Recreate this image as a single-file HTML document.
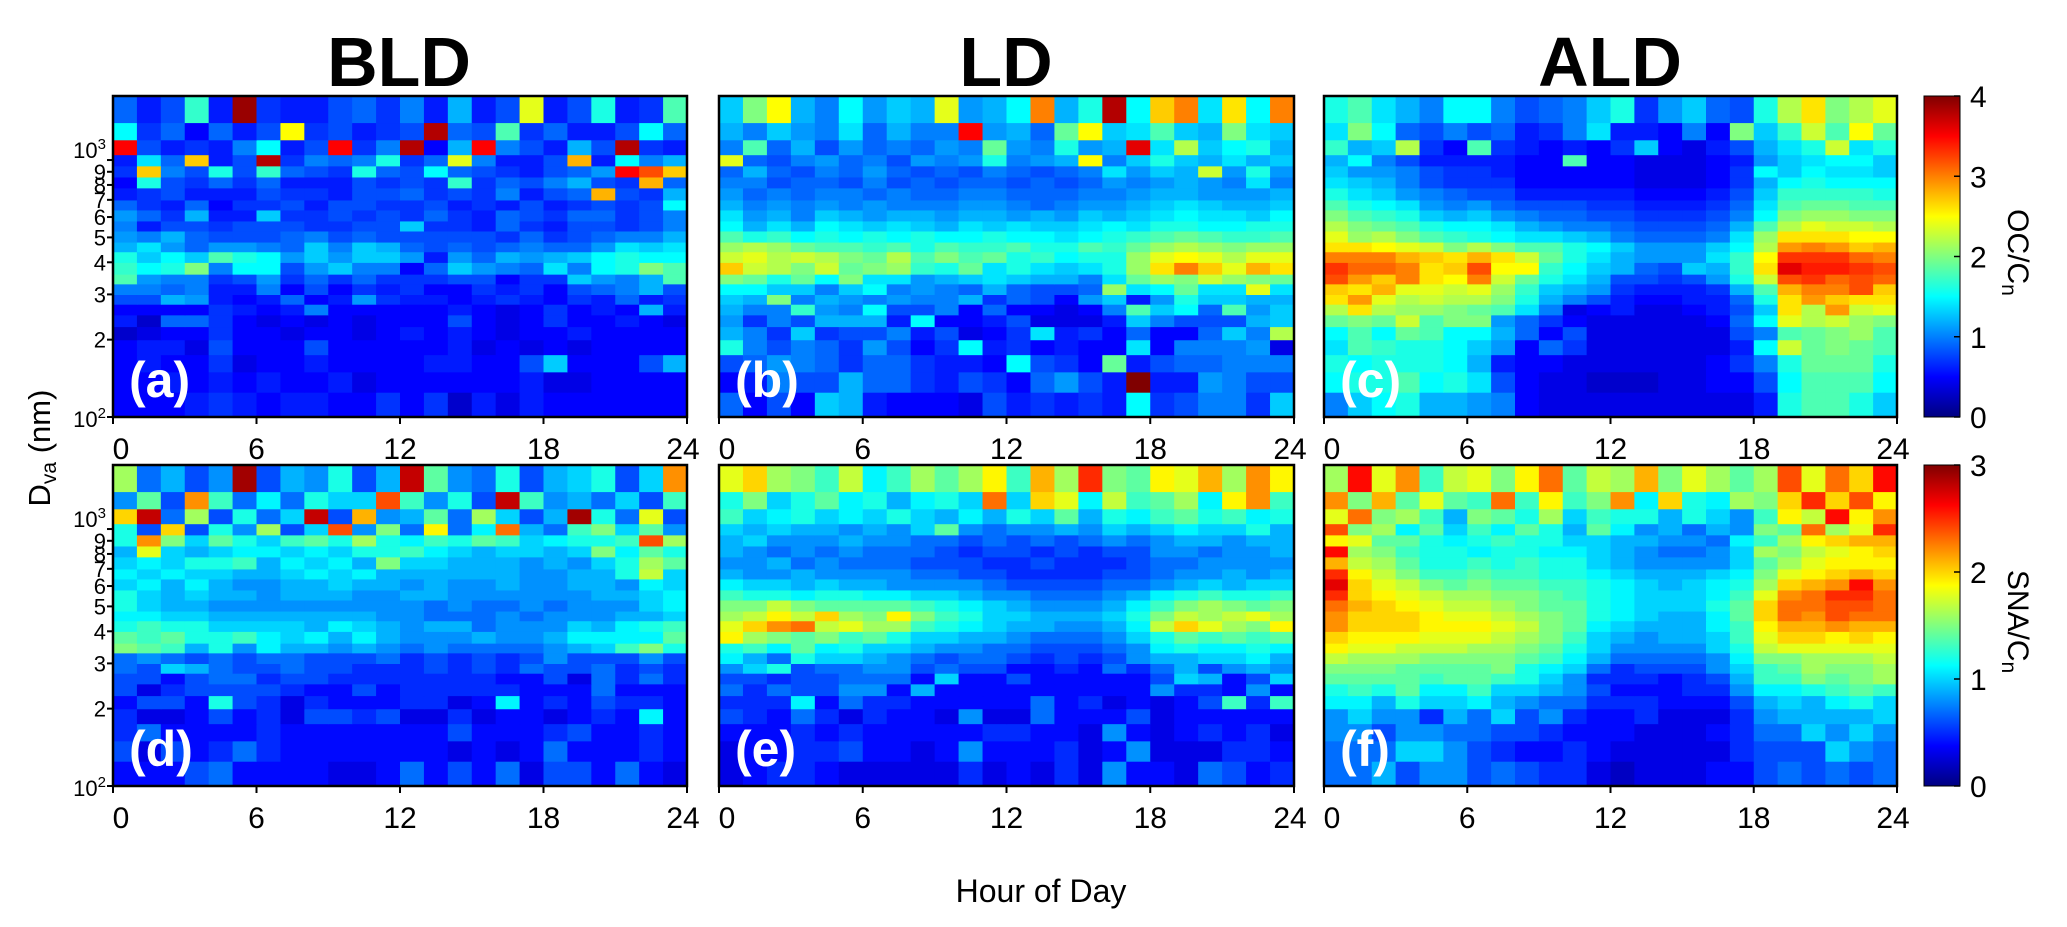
<!DOCTYPE html>
<html><head><meta charset="utf-8">
<style>
html,body{margin:0;padding:0;background:#fff;}
svg{display:block;font-family:"Liberation Sans",Arial,sans-serif;}
</style></head>
<body>
<svg id="chart" width="2067" height="927" viewBox="0 0 2067 927" xmlns="http://www.w3.org/2000/svg">
<defs>
<linearGradient id="jetgrad" x1="0" y1="1" x2="0" y2="0"></linearGradient>
</defs>
<g id="titles">
<text x="399" y="86" font-size="70" font-weight="bold" text-anchor="middle">BLD</text>
<text x="1006" y="86" font-size="70" font-weight="bold" text-anchor="middle">LD</text>
<text x="1610" y="86" font-size="70" font-weight="bold" text-anchor="middle">ALD</text>
</g>
<text transform="translate(50,448) rotate(-90)" font-size="31" text-anchor="middle">D<tspan font-size="21" dy="6">va</tspan><tspan dy="-6"> (nm)</tspan></text>
<text x="1041" y="902" font-size="32" text-anchor="middle">Hour of Day</text>
<g id="panels"></g>
</svg>
<script>
// ---- data ----
const hours = [0,1,2,3,4,5,6,7,8,9,10,11,12,13,14,15,16,17,18,19,20,21,22,23];
const binEdges = [100,125,150,175,200,225,250,275,300,330,360,400,440,480,530,580,640,700,780,860,950,1050,1200,1400,1775];
const xTickLabels = [0,6,12,18,24];
const yTickValues = [100,200,300,400,500,600,700,800,900,1000];
const ocTicks = [0,1,2,3,4];
const snaTicks = [0,1,2,3];

const ocBLD = [
[.5,.5,.5,.6,.7,.6,.5,.6,.6,.5,.5,.7,.5,.7,.3,.6,.4,.6,.5,.5,.5,.5,.5,.5],
[.5,.5,.6,.5,.6,.5,.6,.5,.5,.6,.4,.5,.5,.5,.5,.5,.5,.6,.4,.4,.5,.5,.5,.5],
[.5,.6,.5,.5,.7,.4,.5,.5,.6,.5,.5,.5,.5,.6,.6,.5,.5,.8,1.3,.5,.5,.5,.8,1.2],
[.5,.6,.6,.4,.8,.5,.5,.5,.8,.5,.5,.5,.5,.5,.6,.4,.5,.4,.5,.4,.5,.5,.5,.5],
[.3,.4,.5,.5,.7,.5,.5,.4,.5,.5,.4,.5,.6,.5,.6,.5,.4,.5,.5,.6,.5,.5,.5,.5],
[.6,.3,.9,.9,.7,.5,.4,.5,.4,.5,.4,.5,.5,.5,.8,.5,.4,.5,.7,.5,.5,.6,.5,.4],
[.5,.5,.5,.5,.7,.6,.5,.6,1.0,.5,.5,.5,.5,.5,.6,.5,.4,.5,.7,.5,.6,.5,1.2,.6],
[.8,.8,1.2,1.1,.6,.5,.6,.9,.5,.6,1.1,.7,.6,.6,.5,.6,.7,.6,.5,.7,.6,.9,.6,.7],
[1.0,1.0,.9,1.0,.6,.6,1.0,.5,.8,.5,.7,.6,.7,.5,.5,.7,.6,.7,.5,.8,.9,1.0,1.2,.8],
[1.8,1.1,1.0,1.0,.7,.8,1.1,.7,.9,.7,.9,.7,.7,.7,.8,.8,.5,.7,.7,1.3,1.1,1.0,1.2,1.8],
[1.7,1.5,1.6,2.0,1.0,1.5,1.5,.8,1.1,1.3,1.0,1.0,.5,.9,1.3,1.1,1.0,.9,1.4,1.0,1.5,1.6,2.0,1.8],
[1.6,1.3,1.5,1.3,1.8,1.6,1.5,1.1,1.3,1.1,1.3,1.3,1.1,.6,1.1,.9,1.2,1.1,1.2,1.3,1.5,1.6,1.5,1.5],
[1.2,1.4,1.1,.9,1.1,1.1,1.0,.9,1.3,1.0,1.3,1.2,.9,.8,.9,.8,.9,1.0,.9,.9,1.1,1.4,1.3,1.4],
[1.1,1.0,1.2,.9,.8,.8,.8,.9,1.0,.8,.9,.8,.8,.8,.8,.8,.7,.9,.7,.8,.9,1.0,1.0,1.2],
[1.0,.6,.8,.8,.7,.8,.8,.8,.7,.7,.8,.8,1.3,.7,.7,.6,.9,.7,.6,.8,.8,.7,.8,1.0],
[1.1,.9,.7,1.2,.6,.6,1.3,.7,.7,.8,.7,.8,.7,.9,.7,.6,.9,.8,.7,.9,.9,.7,.8,1.0],
[.9,.7,.6,.9,.5,.7,.7,.8,.6,.8,.8,.7,.7,.8,.6,.7,.6,.8,.6,.7,.8,.7,.8,1.5],
[.6,.7,.8,.6,.6,.6,.8,.7,.7,.6,.8,.8,.9,.7,.8,.7,1.0,.6,.8,.9,2.8,.8,.7,1.2],
[.5,1.6,.8,.7,.9,.7,.9,.6,.6,.6,.8,.7,.8,.7,1.7,.7,.9,.8,1.0,1.2,.8,.7,2.8,.9],
[.7,2.7,1.0,.8,1.6,.8,1.7,.9,.8,.7,1.6,.9,.8,1.5,.9,.8,.7,.6,.8,.9,1.1,3.5,3.2,2.7],
[.6,1.4,.9,2.7,.6,.8,3.8,.7,1.0,.9,1.0,1.6,.7,.9,2.4,1.0,.6,.6,.8,2.8,.6,1.5,1.0,1.2],
[3.5,.8,.6,.7,.6,1.0,1.5,.6,.8,3.5,.7,1.0,3.8,.5,1.2,3.5,1.0,.8,.6,1.2,.8,3.8,.7,.6],
[1.5,.7,.9,.5,.9,.6,.8,2.5,.7,.8,.6,.7,.8,3.8,.9,.8,1.8,.7,.9,.6,.6,.8,1.5,.9],
[.9,.6,.8,1.7,.6,3.9,.7,.6,.6,.8,.9,.7,1.0,.6,1.2,.6,.8,2.4,.6,.8,1.6,.6,.7,1.8]
];
const ocLD = [
[.9,.5,.8,.5,1.3,1.2,.6,.5,.5,.5,.4,.8,.6,.7,.6,.7,.6,1.5,.7,.8,1.0,1.0,.7,1.3],
[.5,.6,1.0,.8,.8,1.2,.9,.9,.7,.6,.8,.7,.5,.9,1.1,.8,.6,4.0,.6,.6,1.1,1.0,.8,.8],
[.8,.9,1.1,1.0,.9,.7,.9,.9,.7,.6,.6,.5,1.5,.8,.7,.5,1.9,.6,.8,.9,.9,1.0,1.0,1.0],
[1.6,1.0,.8,1.0,.9,.7,1.1,.8,.5,.7,1.5,.6,.7,.5,.6,.5,.5,1.4,.5,1.0,1.0,1.0,1.1,.4],
[1.2,1.0,.7,1.3,.7,.8,.8,1.0,.6,.8,.4,.5,.7,1.4,.6,.7,.5,.9,.5,.5,.9,1.3,1.0,2.2],
[1.1,.7,1.0,.8,1.2,1.2,1.2,.6,1.5,.5,.5,.6,.8,.4,.4,.4,.6,1.3,1.0,.8,.8,.8,1.2,1.3],
[1.2,1.0,1.0,1.7,1.1,1.0,1.5,.8,.8,1.0,.5,.9,.5,.5,.4,.5,1.0,1.8,1.3,1.5,.9,1.8,1.1,1.3],
[1.3,1.2,2.0,1.0,1.2,1.1,1.0,1.1,1.0,1.0,1.2,.7,.9,.8,.5,1.1,1.3,.6,1.1,1.6,1.3,1.3,1.2,1.2],
[1.5,1.5,1.3,1.3,1.0,1.3,1.5,1.0,1.1,1.0,.9,1.2,.9,.8,.8,.9,2.1,1.4,1.5,1.9,1.4,1.4,2.4,1.4],
[2.0,1.9,1.6,1.9,1.5,2.0,1.4,1.4,1.1,1.2,1.3,1.4,1.3,1.2,1.2,1.0,1.4,1.9,2.1,2.0,2.3,2.1,2.0,1.9],
[2.7,2.3,2.2,2.0,2.3,1.9,2.0,2.1,1.7,1.6,1.9,1.4,1.6,1.4,1.3,1.4,1.6,2.1,2.6,3.0,2.7,2.4,2.8,2.6],
[2.3,2.4,2.2,2.3,2.2,2.0,1.9,2.2,1.8,2.0,1.8,1.9,1.6,1.7,1.5,1.6,1.6,2.1,2.4,2.5,2.4,2.2,2.4,2.4],
[2.1,2.2,2.1,1.9,1.8,1.8,1.7,1.8,1.6,1.8,1.7,1.7,1.8,1.6,1.6,1.8,1.7,1.9,2.1,2.2,2.1,2.0,2.1,2.1],
[1.8,1.6,1.7,1.5,1.6,1.5,1.6,1.5,1.6,1.5,1.5,1.6,1.5,1.5,1.4,1.5,1.6,1.7,1.8,1.9,1.8,1.7,1.7,1.8],
[1.5,1.2,1.4,1.2,1.5,1.4,1.3,1.4,1.3,1.2,1.4,1.3,1.4,1.3,1.3,1.4,1.5,1.4,1.6,1.6,1.5,1.5,1.6,1.6],
[1.4,1.1,1.2,1.0,1.3,1.2,1.1,1.2,1.2,1.1,1.2,1.2,1.1,1.2,1.1,1.3,1.2,1.3,1.4,1.5,1.4,1.4,1.3,1.5],
[1.2,1.0,1.1,1.0,1.1,1.0,1.1,1.0,1.0,1.0,1.1,1.1,1.0,.9,1.0,1.1,1.1,1.2,1.3,1.4,1.3,1.2,1.2,1.3],
[1.1,.9,1.0,.9,1.0,1.0,.9,1.0,.9,.9,1.0,1.0,.9,.9,.9,1.0,1.0,1.1,1.2,1.2,1.1,1.1,1.1,1.2],
[1.0,1.0,.8,.9,.9,.8,1.0,.8,.9,.8,.9,.9,.8,.9,.8,.9,1.1,1.0,1.1,1.2,1.1,1.0,1.4,1.0],
[.9,1.2,.9,.8,1.0,.9,1.1,.9,.8,.9,.8,1.0,.9,.8,.9,1.0,1.4,1.1,1.3,1.2,2.3,1.1,1.6,1.1],
[2.4,.9,.8,1.0,1.1,.9,1.0,.8,1.1,1.0,1.1,1.6,1.0,1.1,1.2,2.5,1.0,1.3,1.6,1.3,1.2,1.4,1.2,1.3],
[1.0,1.8,.9,1.2,.8,1.1,.9,1.0,.9,1.1,1.0,1.9,1.1,1.0,1.6,1.1,1.2,3.6,1.4,2.2,1.3,1.5,1.6,1.2],
[1.2,1.0,1.3,1.1,1.0,1.4,.9,1.2,1.0,1.0,3.5,1.1,1.2,.9,1.9,2.5,1.3,1.4,1.8,1.3,1.2,2.0,1.4,1.3],
[1.3,2.0,2.5,1.2,1.0,1.5,1.1,1.3,1.2,2.4,1.1,1.2,1.5,3.0,1.2,1.6,3.8,1.5,2.7,3.0,1.4,2.6,1.5,3.0]
];
const ocALD = [
[1.0,1.3,1.5,1.6,1.2,1.2,1.1,1.0,.5,.4,.4,.4,.4,.4,.4,.4,.4,.4,.6,1.6,1.8,1.8,1.6,1.3],
[1.5,1.6,1.6,1.8,1.5,1.6,1.4,.8,.5,.4,.4,.3,.3,.3,.4,.4,.5,.5,.8,1.5,1.8,1.8,1.8,1.5],
[1.6,1.5,1.6,1.6,1.6,1.5,1.2,.6,.5,.5,.4,.4,.4,.4,.4,.4,.5,.7,1.0,1.6,1.9,1.9,1.9,1.6],
[1.4,1.8,1.7,1.6,1.6,1.5,1.3,1.1,.5,.9,.7,.4,.4,.4,.4,.4,.4,.6,1.5,2.3,1.9,2.0,1.9,1.8],
[1.5,1.8,1.5,1.9,1.8,1.5,1.5,1.2,.9,.5,.8,.4,.4,.4,.4,.4,.4,.8,1.0,1.8,1.9,2.0,2.1,1.8],
[1.9,2.0,1.9,2.3,1.8,2.0,2.0,1.1,.9,.7,.5,.4,.4,.4,.4,.4,.5,.9,1.5,2.4,2.2,2.3,2.1,2.0],
[2.2,2.6,2.2,2.1,2.1,2.0,1.9,1.8,1.4,1.0,.4,.5,.6,.4,.4,.5,.6,.8,1.3,2.6,2.2,2.9,2.3,2.4],
[2.6,2.9,2.4,2.2,2.3,2.2,2.2,2.0,1.6,1.2,1.0,.8,.6,.5,.5,.6,.6,.9,1.6,2.6,2.9,2.7,2.6,2.6],
[2.7,2.6,2.8,2.4,2.4,2.3,2.4,2.1,1.7,1.3,1.2,1.1,.7,.6,.6,.6,.7,1.2,1.8,2.8,3.0,3.0,3.2,2.7],
[3.2,2.9,2.7,3.0,2.6,2.5,3.0,2.3,1.9,1.6,1.4,1.2,.8,.8,.7,.8,1.1,1.6,2.3,3.2,3.3,3.1,3.2,3.1],
[3.3,3.1,3.1,3.0,2.6,2.7,3.2,2.5,2.5,1.7,1.5,1.3,1.2,.9,.8,1.3,1.2,1.7,2.6,3.6,3.4,3.4,3.3,3.2],
[3.0,3.0,3.0,2.8,2.7,2.6,2.8,2.6,2.3,1.9,1.6,1.4,1.2,1.1,1.1,1.1,1.4,1.7,2.5,3.3,3.3,3.3,3.1,3.0],
[2.6,2.6,2.5,2.4,2.3,2.0,2.2,2.0,1.8,1.8,1.6,1.5,1.3,1.1,1.1,1.1,1.3,1.5,2.2,2.9,3.0,2.9,2.7,2.8],
[2.4,2.1,2.2,2.0,1.8,1.7,1.6,1.5,1.4,1.4,1.3,1.2,1.0,.9,.9,.9,1.0,1.4,2.1,2.6,2.6,2.6,2.5,2.5],
[2.2,2.0,1.9,1.8,1.6,1.5,1.5,1.4,1.2,1.1,1.0,1.0,.9,.8,.8,.8,.9,1.2,1.8,2.2,2.4,2.3,2.3,2.2],
[2.0,1.8,1.7,1.6,1.3,1.2,1.3,1.1,1.0,.9,.9,.8,.8,.7,.7,.7,.8,1.0,1.5,2.0,2.1,2.1,2.0,2.0],
[1.8,1.6,1.5,1.4,1.1,1.0,1.1,.9,.8,.8,.8,.7,.7,.6,.6,.6,.7,.9,1.4,1.8,1.9,1.9,1.8,1.8],
[1.6,1.4,1.3,1.1,1.0,.9,.8,.8,.6,.6,.6,.6,.6,.5,.5,.5,.6,.8,1.3,1.7,1.7,1.7,1.7,1.6],
[1.4,1.3,1.2,1.0,.8,.7,.7,.7,.5,.5,.5,.5,.5,.4,.4,.4,.5,.7,1.2,1.5,1.6,1.5,1.5,1.5],
[1.3,1.1,1.1,1.0,.8,.7,.7,.6,.5,.5,.5,.5,.5,.4,.4,.4,.5,.7,1.5,1.3,1.5,1.4,1.4,1.3],
[1.2,1.5,1.0,.8,.6,.6,.6,.6,.5,.5,1.8,.5,.5,.4,.4,.4,.5,.6,1.1,1.3,1.4,1.5,1.5,1.3],
[1.7,1.2,1.3,2.2,.7,.5,1.8,.7,.6,.5,.6,.5,.7,1.3,.5,.4,.6,.8,1.2,1.4,1.6,2.3,1.4,1.6],
[1.4,2.0,1.5,.9,.8,1.0,.8,.9,.6,.7,1.0,1.4,.6,.6,.5,1.0,.5,2.0,1.3,1.7,2.3,1.8,2.5,1.9],
[1.6,1.8,1.4,1.2,1.0,1.5,1.5,1.0,.8,.9,1.0,1.3,1.6,.7,1.1,1.3,.9,.8,1.6,2.2,2.6,2.0,2.2,2.4]
];
const snaBLD = [
[.4,.4,.4,.6,.7,.4,.4,.4,.4,.3,.3,.4,.7,.4,.6,.4,.7,.3,.6,.6,.4,.7,.4,.3],
[.6,.3,.6,.4,.5,.7,.5,.4,.4,.4,.4,.4,.4,.4,.3,.4,.3,.4,.7,.4,.4,.4,.5,.4],
[.5,.7,.4,.4,.4,.4,.5,.4,.4,.4,.4,.4,.4,.4,.6,.4,.4,.4,.5,.6,.4,.4,.5,.4],
[.5,.3,.3,.4,.6,.4,.5,.3,.6,.6,.5,.6,.3,.3,.5,.3,.4,.4,.3,.4,.5,.4,1.1,.4],
[.4,.6,.6,.4,1.2,.6,.5,.3,.5,.4,.4,.4,.5,.5,.3,.4,1.1,.4,.5,.4,.6,.5,.5,.4],
[.6,.3,.5,.6,.6,.6,.6,.5,.4,.4,.6,.4,.5,.5,.5,.5,.5,.4,.4,.4,.7,.4,.4,.4],
[.6,.6,.4,.6,.7,.7,.5,.6,.6,.5,.5,.5,.5,.5,.5,.5,.4,.4,.6,.3,.7,.5,.7,.5],
[.7,.6,1.0,.9,.7,.6,.6,.7,.6,.6,.5,.5,.5,.6,.5,.6,.5,.7,.6,.6,.7,.5,.6,.5],
[.7,.8,.7,.6,.7,.6,.7,.7,.6,.6,.6,.7,.5,.6,.5,.6,.5,.6,.8,.6,.6,.6,.8,.6],
[1.5,1.4,1.3,.9,1.2,.8,1.1,.9,.9,.8,.9,.8,.7,.8,.7,.7,.7,.7,.8,.9,1.0,1.3,1.5,1.2],
[1.4,1.3,1.4,1.2,1.2,1.3,1.1,1.0,1.1,.9,1.1,.9,.8,.8,.8,.9,.8,.8,.9,1.1,1.1,1.1,1.1,1.4],
[1.2,1.3,1.2,1.2,1.0,1.0,1.0,1.0,.9,1.1,1.0,.9,.8,.9,.9,.7,.8,.8,.8,1.0,.9,1.1,1.2,1.3],
[1.1,1.1,1.0,1.0,.9,.9,.9,.9,.9,.9,.9,.8,.8,.7,.7,.7,.8,.7,.8,.8,.8,.9,.9,1.0],
[1.2,1.0,.9,.9,.8,.8,.8,.8,.8,.8,.8,.8,.8,.7,.8,.7,.7,.8,.7,.8,.8,.8,1.0,1.1],
[1.2,1.0,.9,1.0,.9,.9,.8,.9,.9,.9,.8,.8,.9,.9,.8,.8,.8,.8,.8,.8,.9,.9,1.0,1.1],
[1.0,1.1,.9,1.1,.9,.8,.8,.9,.9,1.0,.9,.9,.8,.9,.8,.8,.9,.8,.8,.9,.9,.8,1.1,1.0],
[1.1,1.0,1.1,1.0,1.0,.9,.9,1.0,1.1,1.0,1.1,.9,.9,.9,.9,.9,.9,.8,.8,.9,.9,1.2,1.7,1.0],
[1.0,1.1,1.0,1.2,1.2,1.3,.9,1.1,1.0,1.1,.9,1.5,1.0,1.0,.9,.9,.9,.8,.9,.8,1.0,1.2,1.6,1.4],
[.9,1.8,1.0,.9,1.0,1.1,1.1,1.0,1.1,1.0,1.2,1.2,1.3,1.1,1.0,.9,1.0,1.0,.9,1.0,1.5,1.1,1.4,1.2],
[1.2,2.2,1.5,1.0,1.4,1.2,1.0,1.3,1.4,1.2,1.6,1.2,1.1,1.3,1.2,1.4,1.3,1.0,1.1,1.2,1.2,1.3,2.4,1.6],
[1.2,.6,2.0,.6,1.2,.8,1.6,.6,1.0,2.4,.8,1.5,.7,1.9,.7,1.1,2.3,.9,.7,1.3,1.5,1.0,1.4,.8],
[2.0,2.8,.7,1.6,.6,1.2,.7,1.0,2.8,.6,2.1,.8,.9,1.4,.7,1.6,1.0,.6,.9,2.9,1.2,.7,1.8,.6],
[.8,1.4,.6,2.2,1.3,.7,1.1,.7,1.2,1.0,1.0,2.4,1.3,.8,1.2,.6,2.8,1.3,.8,.9,.7,1.0,.6,1.3],
[1.6,.7,.9,.6,.8,2.9,.6,.9,.8,1.2,.6,.9,2.8,1.4,.8,.7,1.2,.6,.9,1.0,1.2,.6,1.0,2.2]
];
const snaLD = [
[.3,.4,.5,.5,.4,.3,.3,.3,.3,.3,.5,.3,.4,.3,.5,.3,.8,.4,.4,.3,.7,.6,.4,.5],
[.3,.4,.4,.5,.5,.6,.4,.4,.3,.4,.8,.4,.4,.4,.5,.3,.4,.8,.3,.3,.3,.5,.5,.4],
[.4,.4,.4,.5,.4,.5,.4,.4,.4,.4,.4,.5,.5,.4,.4,.3,.8,.4,.3,.4,.5,.4,.5,.3],
[.6,.5,.4,.7,.5,.3,.5,.4,.4,.3,.8,.3,.3,.7,.4,.4,.4,.6,.3,.4,.4,.4,.4,.4],
[.5,.5,.5,1.1,.4,.7,.5,.5,.4,.4,.4,.4,.4,.7,.4,.5,.3,.4,.3,.4,.6,1.3,.5,1.3],
[.7,.5,.7,.6,.6,.8,.8,.4,.9,.4,.4,.4,.4,.4,.4,.4,.4,.4,.8,.5,.5,.4,.8,.4],
[.6,.6,.5,.6,.6,.7,.7,.7,.4,1.0,.4,.4,.6,.4,.4,.4,.4,.4,.6,1.0,.9,.4,.6,1.0],
[.8,1.0,1.2,.6,.7,.7,.8,.8,.6,.7,.6,.6,.4,.4,.5,.4,.7,.5,.7,.9,.6,.8,.9,.8],
[1.1,.9,.7,1.2,1.0,1.0,.9,.8,.7,.6,.7,.7,.6,.5,.6,.5,.6,.8,.9,.9,1.0,1.0,1.1,.9],
[1.2,1.3,1.1,1.4,1.1,1.2,1.0,1.0,.9,.8,.8,.7,.7,.6,.6,.6,.7,.8,1.1,1.2,1.1,1.1,1.2,1.1],
[1.9,1.6,1.5,1.4,1.5,1.3,1.4,1.2,1.0,1.0,.9,.9,.8,.7,.7,.7,.8,1.0,1.2,1.4,1.3,1.4,1.3,1.4],
[1.8,2.0,2.2,2.3,1.7,1.8,1.6,1.6,1.3,1.2,1.1,1.0,.9,.9,.8,.8,.9,1.1,1.7,2.0,1.8,1.6,1.5,1.9],
[1.6,1.7,1.9,1.7,2.0,1.6,1.5,1.9,1.5,1.3,1.2,1.0,1.0,.9,.9,.9,1.0,1.2,1.5,1.7,1.6,1.7,1.8,1.6],
[1.5,1.5,1.7,1.5,1.4,1.4,1.4,1.4,1.3,1.2,1.1,1.0,.9,.8,.8,.8,.9,1.1,1.3,1.5,1.6,1.5,1.4,1.5],
[1.3,1.2,1.2,1.1,1.2,1.2,1.1,1.1,1.0,1.0,.9,.8,.8,.7,.7,.7,.8,.9,1.1,1.2,1.3,1.2,1.2,1.3],
[1.1,1.0,1.0,.9,1.0,.9,.9,.8,.8,.8,.8,.7,.6,.6,.6,.6,.7,.7,.8,.9,1.0,.9,1.0,1.0],
[.9,.8,.8,.9,.8,.8,.8,.8,.7,.7,.6,.6,.5,.5,.5,.5,.6,.6,.7,.8,.8,.9,.8,.9],
[.8,.8,.9,.7,.8,.7,.7,.7,.6,.6,.6,.5,.5,.6,.5,.5,.5,.6,.7,.7,.8,.8,.8,.8],
[.9,.8,.7,.8,.7,.8,.7,.7,.7,.6,.5,.6,.6,.5,.6,.5,.6,.6,.8,.8,.7,.8,.8,.9],
[.9,1.0,.8,.8,.8,.9,.8,.8,.7,.7,.6,.7,.6,.7,.6,.7,.8,.7,.8,.9,.9,.8,.9,.9],
[1.0,.9,1.0,.9,.9,.8,.9,.8,1.0,1.4,.8,.7,.8,.8,.9,.8,1.0,.9,1.0,1.1,1.0,1.0,1.2,.9],
[1.3,1.0,1.1,1.2,1.0,1.1,1.0,1.2,1.0,.9,1.1,.9,1.2,1.0,1.4,.9,1.2,1.1,1.3,1.4,1.2,1.3,1.1,1.2],
[1.2,1.5,1.0,1.2,1.4,1.1,1.2,.9,1.1,1.2,1.0,2.3,1.0,2.0,1.8,1.1,1.7,1.3,1.4,1.6,1.1,1.9,2.2,1.3],
[1.8,2.0,1.6,1.5,1.3,1.7,1.1,1.3,1.6,1.4,1.6,1.9,1.3,2.1,1.6,2.5,1.5,1.4,1.9,1.8,2.1,1.6,2.2,1.9]
];
const snaALD = [
[.7,.7,.9,.6,.8,.8,.6,.7,.6,.5,.5,.3,.2,.3,.3,.3,.4,.4,.6,.7,.6,.7,.6,.7],
[.7,.7,.7,1.0,1.0,.8,.6,.5,.4,.4,.5,.4,.3,.3,.3,.3,.3,.5,.6,.6,.6,1.0,.8,.7],
[.8,.8,.6,.8,.8,.7,.7,.6,.6,.5,.4,.4,.4,.3,.3,.3,.4,.5,.7,.7,1.0,.8,1.0,.8],
[.8,1.0,.8,.8,.5,.9,.7,1.0,.6,.8,.5,.4,.4,.5,.3,.3,.3,.5,.8,.9,.9,.9,.9,1.0],
[1.1,1.1,.9,1.2,1.0,1.0,1.1,.9,.8,.7,.7,.5,.5,.5,.4,.4,.4,.6,.9,1.0,.9,1.1,1.2,1.0],
[1.2,1.3,1.2,1.4,1.1,1.1,1.3,1.0,1.0,.9,.8,.6,.4,.4,.4,.5,.5,.8,1.1,1.1,1.2,1.3,1.4,1.3],
[1.4,1.4,1.4,1.4,1.3,1.4,1.4,1.3,1.2,1.0,.8,.5,.5,.5,.4,.5,.6,.9,1.3,1.3,1.5,1.4,1.5,1.6],
[1.5,1.5,1.5,1.4,1.4,1.4,1.4,1.5,1.2,1.1,1.0,.7,.5,.6,.6,.6,.8,1.0,1.3,1.4,1.6,1.5,1.5,1.6],
[1.7,1.6,1.6,1.6,1.5,1.5,1.5,1.5,1.4,1.3,1.1,.9,.7,.7,.7,.7,.8,1.1,1.5,1.5,1.6,1.6,1.6,1.7],
[1.9,1.8,1.8,1.7,1.7,1.7,1.6,1.6,1.5,1.4,1.2,1.0,.8,.8,.8,.8,1.0,1.2,1.7,1.8,1.8,1.8,1.8,1.8],
[2.0,1.9,1.9,1.9,1.8,1.8,1.8,1.7,1.6,1.5,1.3,1.0,.9,.8,.9,.9,1.0,1.3,1.8,2.0,2.0,1.9,2.0,1.9],
[2.2,2.0,2.0,2.0,1.9,1.9,1.9,1.8,1.7,1.5,1.4,1.1,1.0,.9,.9,.9,1.1,1.3,1.9,2.1,2.1,2.2,2.1,2.1],
[2.2,2.0,2.0,2.0,1.9,1.8,1.8,1.7,1.6,1.5,1.4,1.2,1.1,1.0,.9,.9,1.1,1.4,2.0,2.3,2.2,2.4,2.3,2.3],
[2.3,2.1,2.0,1.9,1.8,1.7,1.7,1.6,1.5,1.4,1.4,1.2,1.1,1.0,1.0,1.0,1.2,1.4,2.0,2.3,2.3,2.4,2.4,2.3],
[2.5,2.0,1.9,1.8,1.7,1.6,1.6,1.5,1.5,1.4,1.3,1.2,1.1,1.0,1.0,1.0,1.1,1.3,1.8,2.2,2.3,2.5,2.5,2.3],
[2.7,2.0,1.8,1.7,1.5,1.4,1.5,1.4,1.4,1.3,1.3,1.2,1.1,1.0,.9,1.0,1.1,1.2,1.6,2.0,2.1,2.2,2.6,2.2],
[2.5,1.9,1.7,1.5,1.3,1.3,1.4,1.3,1.3,1.2,1.2,1.1,1.0,.9,.9,.9,1.0,1.1,1.5,1.8,1.9,2.0,2.1,2.0],
[2.1,1.7,1.6,1.4,1.2,1.2,1.3,1.2,1.3,1.2,1.2,1.0,.9,.8,.8,.8,.8,1.0,1.4,1.6,1.8,1.9,1.9,1.9],
[2.6,1.6,1.5,1.3,1.2,1.2,1.1,1.2,1.2,1.1,1.1,1.0,.9,.8,.7,.7,.8,1.0,1.6,1.5,1.7,1.8,1.9,2.0],
[1.9,1.8,1.4,1.4,1.2,1.1,1.2,1.3,1.2,1.2,1.0,1.0,.9,.9,.8,.8,.7,1.1,1.3,1.6,1.9,2.0,2.1,2.1],
[2.4,1.5,1.6,1.1,1.4,1.0,1.3,1.1,1.4,1.2,.9,1.4,1.1,.8,.9,.7,.9,.8,1.5,1.4,2.3,1.6,1.8,2.5],
[1.8,2.3,1.5,1.6,1.3,.9,1.5,1.4,1.2,1.6,1.0,1.3,1.2,1.2,.9,1.2,1.0,.8,1.3,1.9,1.7,2.6,1.9,2.2],
[2.2,1.5,2.1,1.4,1.8,1.4,1.3,2.3,1.3,1.9,1.3,1.5,2.2,1.1,2.0,1.2,1.1,1.6,1.5,2.0,2.5,2.0,2.4,1.9],
[1.6,2.6,1.8,2.2,1.3,1.7,1.8,1.5,1.9,2.3,1.4,1.7,1.6,2.1,1.5,1.8,1.6,1.4,1.6,2.4,1.8,2.3,2.0,2.6]
];

// ---- layout ----
const NS = 'http://www.w3.org/2000/svg';
const svg = document.getElementById('chart');
const root = document.getElementById('panels');
const colX = [[113,687],[719,1294],[1324,1897]];
const rowY = [[96,417],[465,786]];
const dMin = 100, dMax = 1775, hMax = 24;

function el(tag, attrs, parent) {
  const e = document.createElementNS(NS, tag);
  for (const k in attrs) e.setAttribute(k, attrs[k]);
  (parent || root).appendChild(e);
  return e;
}
function jet(t) {
  t = Math.max(0, Math.min(1, t));
  const c = v => Math.round(255 * Math.max(0, Math.min(1, v)));
  return 'rgb(' + c(1.5 - Math.abs(4*t - 3)) + ',' + c(1.5 - Math.abs(4*t - 2)) + ',' + c(1.5 - Math.abs(4*t - 1)) + ')';
}
function xScale(h, p) { return p[0] + (h / hMax) * (p[1] - p[0]); }
function yScale(d, r) { return r[1] - (Math.log10(d) - Math.log10(dMin)) / (Math.log10(dMax) - Math.log10(dMin)) * (r[1] - r[0]); }

const grad = document.getElementById('jetgrad');
for (let i = 0; i <= 40; i++) {
  const s = document.createElementNS(NS, 'stop');
  s.setAttribute('offset', (i / 40));
  s.setAttribute('stop-color', jet(i / 40));
  grad.appendChild(s);
}

const panels = [
  {data: ocBLD, col: 0, row: 0, max: 4, label: '(a)', name: 'panel-a-oc-bld'},
  {data: ocLD, col: 1, row: 0, max: 4, label: '(b)', name: 'panel-b-oc-ld'},
  {data: ocALD, col: 2, row: 0, max: 4, label: '(c)', name: 'panel-c-oc-ald'},
  {data: snaBLD, col: 0, row: 1, max: 3, label: '(d)', name: 'panel-d-sna-bld'},
  {data: snaLD, col: 1, row: 1, max: 3, label: '(e)', name: 'panel-e-sna-ld'},
  {data: snaALD, col: 2, row: 1, max: 3, label: '(f)', name: 'panel-f-sna-ald'}
];

panels.forEach(p => {
  const px = colX[p.col], py = rowY[p.row];
  const g = el('g', {});
  
  
  for (let b = 0; b < binEdges.length - 1; b++) {
    const y0 = yScale(binEdges[b+1], py), y1 = yScale(binEdges[b], py);
    for (let h = 0; h < hours.length; h++) {
      const x0 = xScale(hours[h], px), x1 = xScale(hours[h] + 1, px);
      const r = el('rect', {x: x0.toFixed(2), y: y0.toFixed(2), width: (x1 - x0 + 0.6).toFixed(2), height: (y1 - y0 + 0.6).toFixed(2), fill: jet(p.data[b][h] / p.max)}, g);
      
      
    }
  }
  const fr = el('rect', {x: px[0], y: py[0], width: px[1]-px[0], height: py[1]-py[0], fill: 'none', stroke: '#000', 'stroke-width': 2.5}, g);
  
  
  const lb = el('text', {x: px[0] + 16, y: py[1] - 20, 'font-size': 50, 'font-weight': 'bold', fill: '#fff'}, g);
  lb.textContent = p.label;
  
  
  xTickLabels.forEach(v => {
    const x = xScale(v, px);
    const t = el('line', {x1: x, x2: x, y1: py[1], y2: py[1] + 7, stroke: '#000', 'stroke-width': 2}, g);
    
    
    let tx = x;
    if (v === 0) tx = x + 8;
    if (v === 24) tx = x - 4;
    const tl = el('text', {x: tx, y: py[1] + 42, 'font-size': 30, 'text-anchor': 'middle'}, g);
    tl.textContent = v;
    
    
  });
  if (p.col === 0) {
    yTickValues.forEach(v => {
      const y = yScale(v, py);
      const t = el('line', {x1: px[0] - 6, x2: px[0], y1: y, y2: y, stroke: '#000', 'stroke-width': 2}, g);
      
      
      const tl = el('text', {x: px[0] - 7, y: y + 8, 'font-size': 22, 'text-anchor': 'end'}, g);
      
      
      if (v === 100 || v === 1000) {
        tl.setAttribute('y', y + 10);
        if (v === 1000) tl.setAttribute('y', y - 2);
        tl.innerHTML = '10<tspan font-size="15" dy="-9">' + (v === 100 ? 2 : 3) + '</tspan>';
      } else {
        tl.textContent = v / 100;
      }
    });
  }
});

[{row: 0, ticks: ocTicks, max: 4, title: 'OC/C', name: 'colorbar-oc'},
 {row: 1, ticks: snaTicks, max: 3, title: 'SNA/C', name: 'colorbar-sna'}].forEach(cb => {
  const py = rowY[cb.row];
  const g = el('g', {});
  
  
  el('rect', {x: 1924, y: py[0], width: 36, height: py[1]-py[0], fill: 'url(#jetgrad)', stroke: '#000', 'stroke-width': 1}, g);
  cb.ticks.forEach(v => {
    const y = py[1] - v / cb.max * (py[1] - py[0]);
    el('line', {x1: 1954, x2: 1960, y1: y, y2: y, stroke: '#000', 'stroke-width': 1.5}, g);
    const tl = el('text', {x: 1970, y: y + 11, 'font-size': 30}, g);
    tl.textContent = v;
    
    
  });
  const cy = (py[0] + py[1]) / 2 - 4;
  const tt = el('text', {transform: 'translate(2008,' + cy + ') rotate(90)', 'font-size': 30, 'text-anchor': 'middle'}, g);
  tt.innerHTML = cb.title + '<tspan font-size="21" dy="6">n</tspan>';
  
  
});
</script>
</body></html>
